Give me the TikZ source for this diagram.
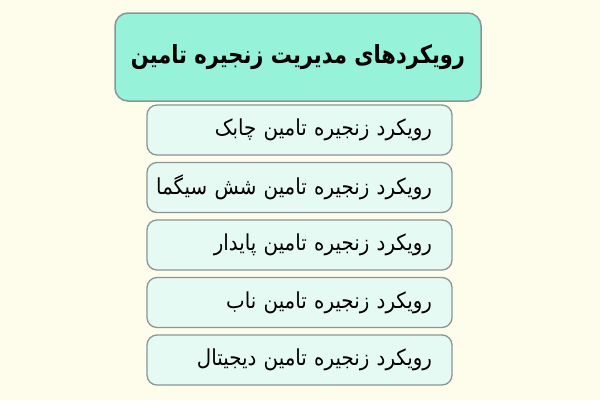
\documentclass[tikz,border=0pt]{standalone}
\usepackage{fontspec}
\newfontfamily\titlefont[Script=Arabic,FakeStretch=0.84]{DejaVu Sans}
\newfontfamily\arabicfont[Script=Arabic,FakeStretch=0.9]{DejaVu Sans}
\TeXXeTstate=1
\newcommand{\rtlline}[1]{\hbox to \hsize{\hss\beginR #1\endR}}
\definecolor{pagebg}{HTML}{FEFCEB}
\definecolor{titlefill}{HTML}{96F2D8}
\definecolor{itemfill}{HTML}{E6FAF4}
\definecolor{boxline}{HTML}{8A9696}
\tikzset{
  titlebox/.style={draw=boxline, line width=1.5pt, rounded corners=13pt, fill=titlefill,
    minimum width=366pt, minimum height=88pt, inner xsep=4pt,
    font=\titlefont\bfseries\fontsize{25}{29}\selectfont},
  itembox/.style={draw=boxline, line width=1.3pt, rounded corners=10pt, fill=itemfill,
    minimum width=305pt, minimum height=50pt, inner xsep=20pt, text width=265pt, align=right,
    font=\arabicfont\fontsize{22}{26}\selectfont}
}
\begin{document}
\begin{tikzpicture}[x=1pt,y=-1pt]

\fill[pagebg] (0,0) rectangle (600,400);
\useasboundingbox (0,0) rectangle (600,400);

\node[titlebox] (title) at (298,57) {\beginR رویکردهای مدیریت زنجیره تامین\endR};

\node[itembox] (agile) at (299.5,130) {\rtlline{رویکرد زنجیره تامین چابک}};
\node[itembox] (sixsigma) at (299.5,187.5) {\rtlline{رویکرد زنجیره تامین شش سیگما}};
\node[itembox] (sustain) at (299.5,245) {\rtlline{رویکرد زنجیره تامین پایدار}};
\node[itembox] (lean) at (299.5,302.5) {\rtlline{رویکرد زنجیره تامین ناب}};
\node[itembox] (digital) at (299.5,360) {\rtlline{رویکرد زنجیره تامین دیجیتال}};

\end{tikzpicture}
\end{document}
